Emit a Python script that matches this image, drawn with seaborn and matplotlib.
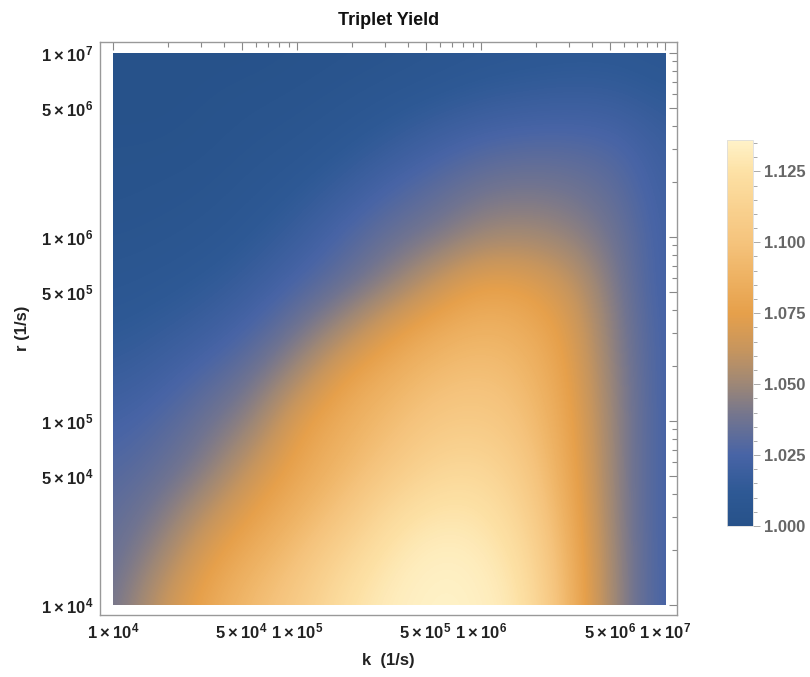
import numpy as np
import matplotlib
matplotlib.use("Agg")
import matplotlib.pyplot as plt
import seaborn as sns
from matplotlib.colors import LinearSegmentedColormap
from matplotlib.patches import Rectangle
from matplotlib.ticker import MultipleLocator

# grid positions (log10 of k and r, 1/s)
k_exp = [4.0, 4.25, 4.5, 4.75, 5.0, 5.25, 5.5, 5.75, 6.0, 6.25, 6.5, 6.75, 7.0]
r_exp = [4.0, 4.25, 4.5, 4.75, 5.0, 5.25, 5.5, 5.75, 6.0, 6.25, 6.5, 6.75, 7.0]

# triplet yield, one list per r row (bottom -> top)
row_r4_00 = [1.037, 1.062, 1.080, 1.095, 1.107, 1.124, 1.133, 1.136, 1.135, 1.127, 1.086, 1.044, 1.022]
row_r4_25 = [1.034, 1.050, 1.072, 1.086, 1.099, 1.116, 1.129, 1.135, 1.133, 1.122, 1.084, 1.044, 1.022]
row_r4_50 = [1.032, 1.040, 1.058, 1.075, 1.088, 1.102, 1.120, 1.128, 1.127, 1.114, 1.081, 1.043, 1.022]
row_r4_75 = [1.028, 1.033, 1.042, 1.062, 1.079, 1.091, 1.104, 1.116, 1.118, 1.106, 1.078, 1.043, 1.022]
row_r5_00 = [1.023, 1.028, 1.036, 1.046, 1.072, 1.085, 1.095, 1.105, 1.107, 1.099, 1.076, 1.043, 1.022]
row_r5_25 = [1.017, 1.021, 1.028, 1.036, 1.052, 1.075, 1.086, 1.095, 1.099, 1.093, 1.073, 1.042, 1.022]
row_r5_50 = [1.012, 1.015, 1.019, 1.026, 1.037, 1.052, 1.071, 1.083, 1.089, 1.085, 1.070, 1.040, 1.022]
row_r5_75 = [1.008, 1.010, 1.013, 1.018, 1.026, 1.034, 1.045, 1.062, 1.076, 1.073, 1.062, 1.038, 1.021]
row_r6_00 = [1.005, 1.006, 1.008, 1.012, 1.018, 1.027, 1.035, 1.040, 1.050, 1.052, 1.047, 1.036, 1.021]
row_r6_25 = [1.003, 1.004, 1.005, 1.008, 1.012, 1.018, 1.026, 1.032, 1.038, 1.040, 1.038, 1.032, 1.020]
row_r6_50 = [1.002, 1.002, 1.003, 1.005, 1.007, 1.011, 1.016, 1.022, 1.027, 1.029, 1.029, 1.027, 1.018]
row_r6_75 = [1.001, 1.001, 1.002, 1.003, 1.004, 1.006, 1.009, 1.012, 1.015, 1.017, 1.018, 1.017, 1.013]
row_r7_00 = [1.000, 1.000, 1.001, 1.001, 1.002, 1.003, 1.004, 1.006, 1.008, 1.009, 1.010, 1.010, 1.008]

tick_vals = [1e4, 5e4, 1e5, 5e5, 1e6, 5e6, 1e7]
tick_labels = [r"$1\times10^{4}$", r"$5\times10^{4}$", r"$1\times10^{5}$", r"$5\times10^{5}$",
               r"$1\times10^{6}$", r"$5\times10^{6}$", r"$1\times10^{7}$"]
cbar_ticks = [1.000, 1.025, 1.050, 1.075, 1.100, 1.125]
vmin, vmax = 1.000, 1.136

Z = np.vstack([row_r4_00, row_r4_25, row_r4_50, row_r4_75, row_r5_00, row_r5_25, row_r5_50,
               row_r5_75, row_r6_00, row_r6_25, row_r6_50, row_r6_75, row_r7_00])

sns.set_theme(style="white")
plt.rcParams['font.family'] = ['Liberation Sans', 'DejaVu Sans']
plt.rcParams['mathtext.fontset'] = 'custom'
plt.rcParams['mathtext.rm'] = 'Liberation Sans:bold'
plt.rcParams['mathtext.bf'] = 'Liberation Sans:bold'
plt.rcParams['mathtext.default'] = 'rm'

stops = [(1.000, '#27528a'), (1.012, '#2e5995'), (1.025, '#4864a6'), (1.038, '#717490'),
         (1.050, '#9e8776'), (1.062, '#c6955e'), (1.075, '#e6a04b'), (1.088, '#eeb263'),
         (1.100, '#f5c37c'), (1.112, '#f9d18f'), (1.125, '#fde1a5'), (1.136, '#fff2c8')]
cmap = LinearSegmentedColormap.from_list('triplet', [((v - vmin) / (vmax - vmin), c) for v, c in stops])

fig = plt.figure(figsize=(8.1, 6.77), dpi=100)
ax = fig.add_axes([0.1235, 0.0916, 0.7123, 0.8464])

half = (k_exp[1] - k_exp[0]) / 2
im = ax.imshow(Z, origin='lower', cmap=cmap, vmin=vmin, vmax=vmax, aspect='auto',
               interpolation='bicubic',
               extent=(k_exp[0] - half, k_exp[-1] + half, r_exp[0] - half, r_exp[-1] + half))
im.set_clip_path(Rectangle((k_exp[0], r_exp[0]), k_exp[-1] - k_exp[0], r_exp[-1] - r_exp[0],
                           transform=ax.transData))

ax.set_xlim(3.93, 7.065)
ax.set_ylim(3.946, 7.06)

minor = [np.log10(m * 10.0 ** d) for d in (4, 5, 6) for m in (2, 3, 4, 6, 7, 8, 9)]
ax.set_xticks(np.log10(tick_vals))
ax.set_xticklabels(tick_labels)
ax.set_yticks(np.log10(tick_vals))
ax.set_yticklabels(tick_labels)
ax.set_xticks(minor, minor=True)
ax.set_yticks(minor, minor=True)
ax.tick_params(which='both', direction='in', top=True, right=True, color='#888888',
               labelcolor='#222222', labelsize=12, width=0.8)
ax.tick_params(which='major', length=6, pad=5)
ax.tick_params(which='minor', length=3.5)
for s in ax.spines.values():
    s.set_color('#999999')
    s.set_linewidth(1)

ax.set_xlabel("k  (1/s)", fontsize=12, fontweight='bold', color='#222222', labelpad=8)
ax.set_ylabel("r (1/s)", fontsize=12, fontweight='bold', color='#222222', labelpad=8)
ax.set_title("Triplet Yield", fontsize=13, fontweight='bold', color='#111111', pad=12)

cax = fig.add_axes([0.8975, 0.223, 0.032, 0.570])
cb = fig.colorbar(im, cax=cax)
cb.set_ticks(cbar_ticks)
cb.ax.set_yticklabels([f"{t:.3f}" for t in cbar_ticks])
cb.ax.yaxis.set_minor_locator(MultipleLocator(0.005))
cb.ax.tick_params(which='both', direction='out', color='#aaaaaa', labelcolor='#666666',
                  labelsize=12, width=0.7)
cb.ax.tick_params(which='major', length=5, pad=3)
cb.ax.tick_params(which='minor', length=3)
for t in cb.ax.get_yticklabels():
    t.set_fontweight('bold')
cb.outline.set_edgecolor('#dddddd')
cb.outline.set_linewidth(0.6)

fig.savefig("out.png", dpi=100)
